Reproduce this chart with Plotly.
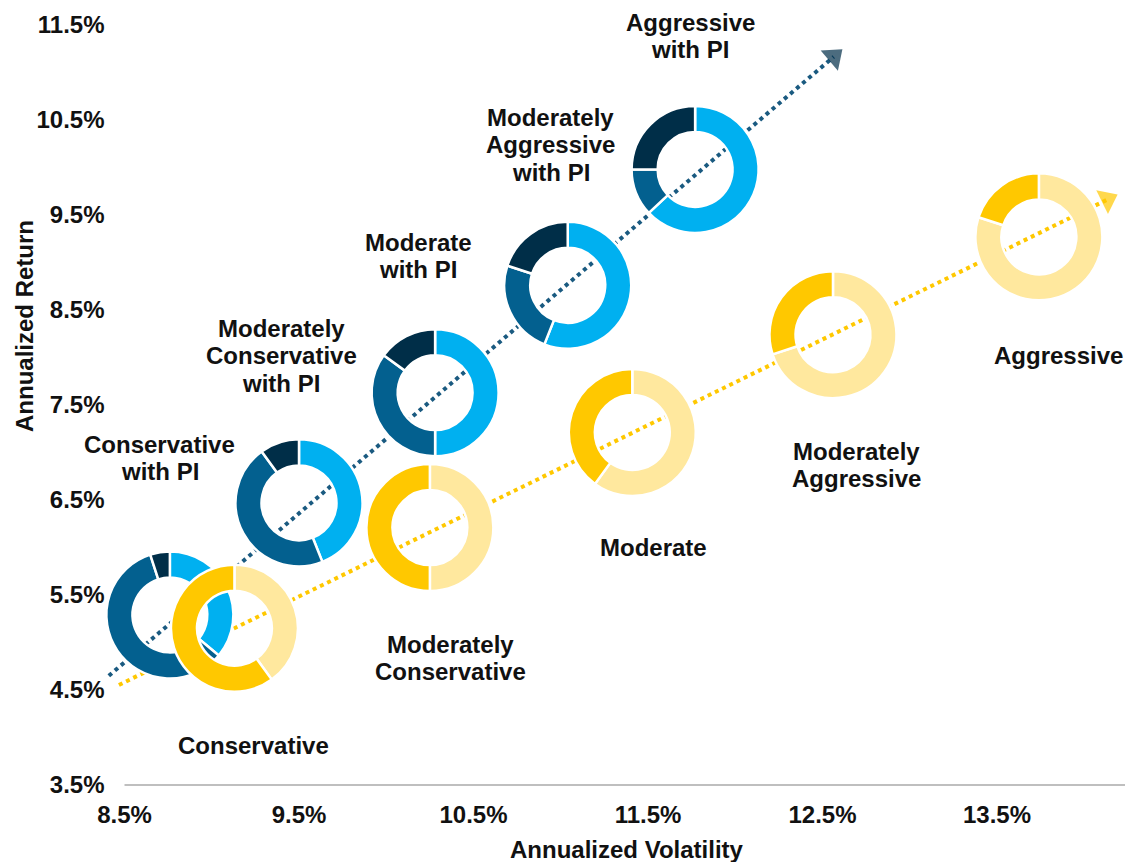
import plotly.graph_objects as go

# ---------------- data ----------------
pi_names = ["Conservative with PI", "Moderately Conservative with PI", "Moderate with PI",
            "Moderately Aggressive with PI", "Aggressive with PI"]
pi_labels = ["Conservative<br>with PI", "Moderately<br>Conservative<br>with PI", "Moderate<br>with PI",
             "Moderately<br>Aggressive<br>with PI", "Aggressive<br>with PI"]
pi_volatility = [8.76, 9.50, 10.28, 11.04, 11.77]
pi_return = [5.29, 6.47, 7.63, 8.76, 9.98]
pi_light = [36, 44, 50, 56, 63]
pi_mid = [59, 46, 35, 24, 12]
pi_dark = [5, 10, 15, 20, 25]

std_names = ["Conservative", "Moderately Conservative", "Moderate", "Moderately Aggressive", "Aggressive"]
std_labels = ["Conservative", "Moderately<br>Conservative", "Moderate", "Moderately<br>Aggressive", "Aggressive"]
std_volatility = [9.13, 10.25, 11.41, 12.56, 13.74]
std_return = [5.15, 6.21, 7.21, 8.24, 9.27]
std_light = [40, 50, 60, 70, 80]
std_gold = [60, 50, 40, 30, 20]

# trend arrows (start point, arrow-head point)
pi_trend_vol = [8.41, 12.564]
pi_trend_ret = [4.65, 11.165]
std_trend_vol = [8.468, 14.132]
std_trend_ret = [4.553, 9.662]

# label anchor points
pi_label_vol = [8.703, 9.397, 10.182, 10.944, 11.741]
pi_label_ret = [6.942, 8.016, 9.068, 10.237, 11.384]
std_label_vol = [9.242, 10.371, 11.529, 12.692, 13.85]
std_label_ret = [3.921, 4.837, 6.005, 6.868, 8.026]

x_ticks = [8.5, 9.5, 10.5, 11.5, 12.5, 13.5]
y_ticks = [3.5, 4.5, 5.5, 6.5, 7.5, 8.5, 9.5, 10.5, 11.5]
x_ticktext = [f"{v:.1f}%" for v in x_ticks]
y_ticktext = [f"{v:.1f}%" for v in y_ticks]

# ---------------- layout constants ----------------
W, H = 1125, 862
ML, MR, MT, MB = 100, 0, 10, 77
PW, PH = W - ML - MR, H - MT - MB
X_RANGE = [8.5 - 24.5 / 174.5, 8.5 + (PW - 24.5) / 174.5]
Y_RANGE = [3.5, 3.5 + PH / 95.0]
R_PX = 63.5
HOLE = 0.59
LINE_GAP = 27.5

C_LIGHT_BLUE = "#00B0F0"
C_MID_BLUE = "#03608F"
C_NAVY = "#002E48"
C_GOLD = "#FFC800"
C_LIGHT_YELLOW = "#FFE89E"
TEXT = "#111111"
FONT = "Liberation Sans, Arial, sans-serif"
FS = 24


def to_paper(x, y):
    px = (x - X_RANGE[0]) / (X_RANGE[1] - X_RANGE[0])
    py = (y - Y_RANGE[0]) / (Y_RANGE[1] - Y_RANGE[0])
    return px, py


def domain(x, y):
    px, py = to_paper(x, y)
    rx, ry = R_PX / PW, R_PX / PH
    return dict(x=[px - rx, px + rx], y=[py - ry, py + ry])


fig = go.Figure()

# trend lines with arrow heads
fig.add_trace(go.Scatter(
    x=pi_trend_vol, y=pi_trend_ret, mode="lines+markers",
    line=dict(color="#1A5A80", width=4, dash="4px,4px"),
    marker=dict(symbol="triangle-up", size=[0, 23], color=C_NAVY, angleref="previous",
                line=dict(width=0)),
    cliponaxis=False, showlegend=False, hoverinfo="skip"))
fig.add_trace(go.Scatter(
    x=std_trend_vol, y=std_trend_ret, mode="lines+markers",
    line=dict(color=C_GOLD, width=4, dash="4px,4px"),
    marker=dict(symbol="triangle-up", size=[0, 23], color=C_GOLD, angleref="previous",
                line=dict(width=0)),
    cliponaxis=False, showlegend=False, hoverinfo="skip"))

# donuts - with PI
for i, name in enumerate(pi_names):
    fig.add_trace(go.Pie(
        values=[pi_light[i], pi_mid[i], pi_dark[i]],
        labels=["Equity", "Fixed income", "PI"],
        name=name, domain=domain(pi_volatility[i], pi_return[i]),
        hole=HOLE, sort=False, direction="clockwise", rotation=0,
        marker=dict(colors=[C_LIGHT_BLUE, C_MID_BLUE, C_NAVY], line=dict(color="white", width=2.5)),
        textinfo="none", showlegend=False))

# donuts - standard
for i, name in enumerate(std_names):
    fig.add_trace(go.Pie(
        values=[std_light[i], std_gold[i]],
        labels=["Equity", "Fixed income"],
        name=name, domain=domain(std_volatility[i], std_return[i]),
        hole=HOLE, sort=False, direction="clockwise", rotation=0,
        marker=dict(colors=[C_LIGHT_YELLOW, C_GOLD], line=dict(color="white", width=2.5)),
        textinfo="none", showlegend=False))

label_font = dict(family=FONT, size=FS, color=TEXT, weight="bold")
annotations = []
for lbl, x, y in zip(pi_labels + std_labels, pi_label_vol + std_label_vol, pi_label_ret + std_label_ret):
    parts = lbl.split("<br>")
    n = len(parts)
    for k, part in enumerate(parts):
        annotations.append(dict(x=x, y=y, xref="x", yref="y", text=part, showarrow=False,
                                xanchor="center", yanchor="middle",
                                yshift=((n - 1) / 2 - k) * LINE_GAP, font=label_font))

# axis titles
annotations.append(dict(x=(627 - ML) / PW, y=(H - MB - 849) / PH, xref="paper", yref="paper",
                        text="Annualized Volatility", showarrow=False,
                        xanchor="center", yanchor="middle", font=label_font))
annotations.append(dict(x=(24 - ML) / PW, y=(H - MB - 326) / PH, xref="paper", yref="paper",
                        text="Annualized Return", showarrow=False, textangle=-90,
                        xanchor="center", yanchor="middle", font=label_font))

fig.update_layout(
    width=W, height=H,
    margin=dict(l=ML, r=MR, t=MT, b=MB, pad=0),
    paper_bgcolor="white", plot_bgcolor="white",
    font=dict(family=FONT, size=FS, color=TEXT),
    xaxis=dict(range=X_RANGE, tickvals=x_ticks, ticktext=x_ticktext, showgrid=False,
               zeroline=False, showline=False, ticks="", ticklabelstandoff=13,
               tickfont=label_font, fixedrange=True),
    yaxis=dict(range=Y_RANGE, tickvals=y_ticks, ticktext=y_ticktext, showgrid=False,
               zeroline=False, showline=False, ticks="", anchor="free",
               position=(124.5 - ML) / PW, ticklabelstandoff=20,
               tickfont=label_font, fixedrange=True),
    shapes=[dict(type="line", xref="x", yref="paper", x0=x_ticks[0], x1=X_RANGE[1], y0=0, y1=0,
                 line=dict(color="#BFBFBF", width=2), layer="below")],
    annotations=annotations,
    showlegend=False,
)

fig.write_html("out.html")
